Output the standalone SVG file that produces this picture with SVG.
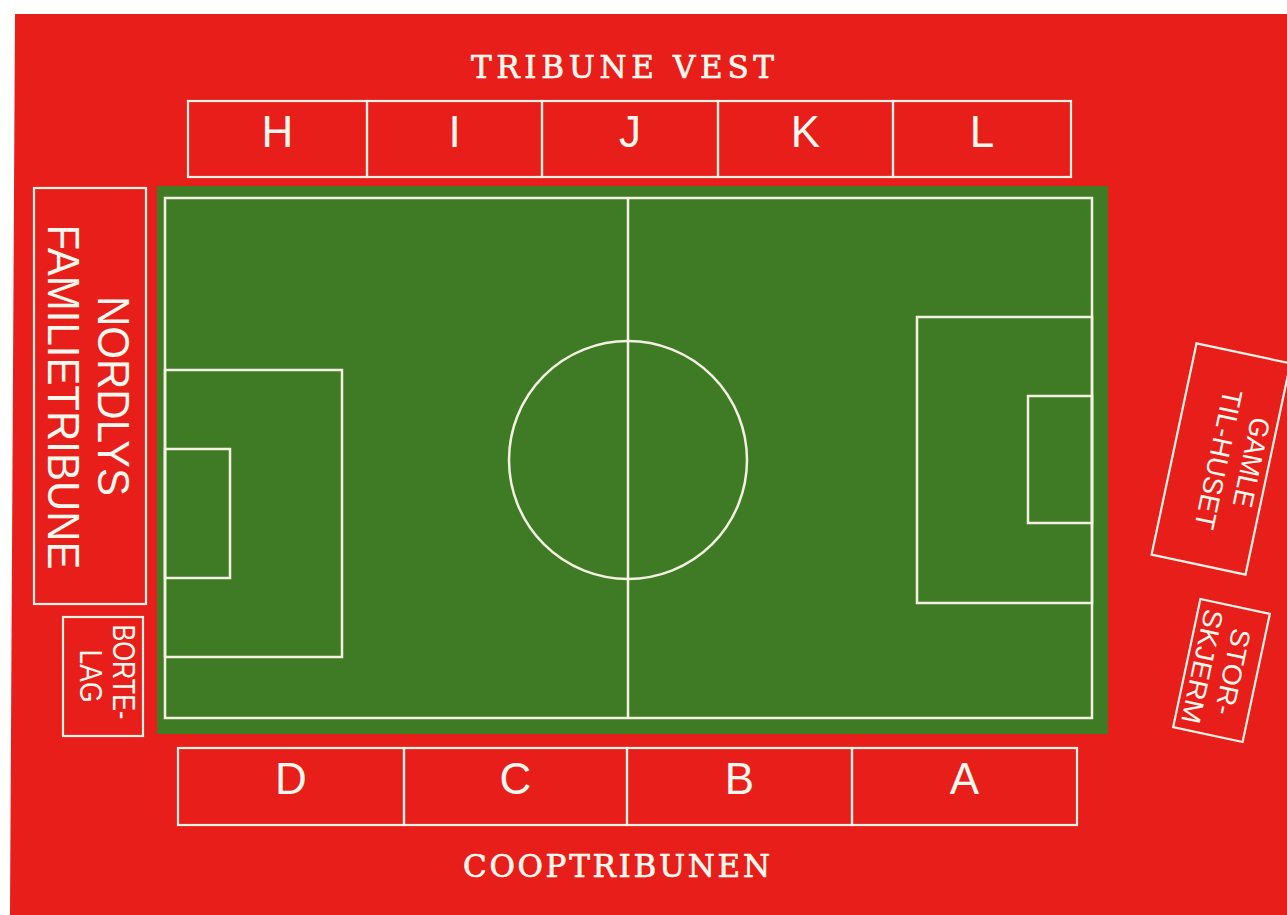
<svg xmlns="http://www.w3.org/2000/svg" width="1287" height="915" viewBox="0 0 1287 915">
<defs>
<style>
.box{fill:none;stroke:#f8f3e6;stroke-width:2.2}
.mk{fill:none;stroke:#f4f1e2;stroke-width:2.5}
.lbl{font-family:"Liberation Sans",Arial,sans-serif;fill:#fcf8ee;text-anchor:middle}
.sec{font-size:44px}
.title{font-family:"DejaVu Serif","Liberation Serif",serif;font-size:31px;fill:#fcf8ee;stroke:#fcf8ee;stroke-width:0.7;text-anchor:start}
</style>
</defs>
<rect x="0" y="0" width="1287" height="915" fill="#ffffff"/>
<polygon points="15,14 1287,14 1287,915 10,915" fill="#e71e1a"/>

<g id="pitch">
<rect x="157" y="186" width="951" height="548" fill="#3f7a25"/>
<rect class="mk" x="165" y="198" width="927" height="520"/>
<line class="mk" x1="628" y1="198" x2="628" y2="718"/>
<circle class="mk" cx="628" cy="460" r="119"/>
<rect class="mk" x="165" y="370" width="177" height="287"/>
<rect class="mk" x="165" y="449" width="65" height="129"/>
<rect class="mk" x="917" y="317" width="175" height="286"/>
<rect class="mk" x="1028" y="396" width="64" height="127"/>
</g>

<g id="tribune-vest-title">
<text class="title" x="471" y="78" textLength="303" lengthAdjust="spacing">TRIBUNE VEST</text>
</g>
<g id="section-H"><rect class="box" x="188" y="101" width="179" height="76"/><text class="lbl sec" x="277.5" y="147">H</text></g>
<g id="section-I"><rect class="box" x="367" y="101" width="175" height="76"/><text class="lbl sec" x="454.5" y="147">I</text></g>
<g id="section-J"><rect class="box" x="542" y="101" width="176" height="76"/><text class="lbl sec" x="630" y="147">J</text></g>
<g id="section-K"><rect class="box" x="718" y="101" width="175" height="76"/><text class="lbl sec" x="805.5" y="147">K</text></g>
<g id="section-L"><rect class="box" x="893" y="101" width="178" height="76"/><text class="lbl sec" x="982" y="147">L</text></g>

<g id="section-D"><rect class="box" x="178" y="748" width="226" height="77"/><text class="lbl sec" x="291" y="794">D</text></g>
<g id="section-C"><rect class="box" x="404" y="748" width="223" height="77"/><text class="lbl sec" x="515.5" y="794">C</text></g>
<g id="section-B"><rect class="box" x="627" y="748" width="225" height="77"/><text class="lbl sec" x="739.5" y="794">B</text></g>
<g id="section-A"><rect class="box" x="852" y="748" width="225" height="77"/><text class="lbl sec" x="964.5" y="794">A</text></g>
<g id="cooptribunen-title">
<text class="title" x="463" y="877" textLength="307" lengthAdjust="spacing">COOPTRIBUNEN</text>
</g>

<g id="nordlys-familietribune">
<rect class="box" x="34" y="188" width="112" height="416"/>
<text class="lbl" font-size="44" transform="translate(98,396) rotate(90)" textLength="200" lengthAdjust="spacingAndGlyphs">NORDLYS</text>
<text class="lbl" font-size="44" transform="translate(48,397) rotate(90)" textLength="345" lengthAdjust="spacingAndGlyphs">FAMILIETRIBUNE</text>
</g>

<g id="bortelag">
<rect class="box" x="63" y="617" width="80" height="119"/>
<text class="lbl" font-size="32" transform="translate(113,672) rotate(90)" textLength="95" lengthAdjust="spacingAndGlyphs">BORTE-</text>
<text class="lbl" font-size="32" transform="translate(80,676) rotate(90)" textLength="53" lengthAdjust="spacingAndGlyphs">LAG</text>
</g>

<g id="gamle-til-huset" transform="translate(1221,459) rotate(12)">
<rect class="box" x="-48" y="-108" width="96" height="216"/>
<text class="lbl" font-size="28" transform="translate(21,-3) rotate(90)" textLength="91" lengthAdjust="spacingAndGlyphs">GAMLE</text>
<text class="lbl" font-size="28" transform="translate(-12,1) rotate(90)" textLength="142" lengthAdjust="spacingAndGlyphs">TIL-HUSET</text>
</g>

<g id="storskjerm" transform="translate(1221.5,670.5) rotate(12)">
<rect class="box" x="-35.5" y="-65.5" width="71" height="131"/>
<text class="lbl" font-size="27" transform="translate(2,-1) rotate(90)" textLength="88" lengthAdjust="spacingAndGlyphs">STOR-</text>
<text class="lbl" font-size="27" transform="translate(-29,0) rotate(90)" textLength="116" lengthAdjust="spacingAndGlyphs">SKJERM</text>
</g>

<g id="connectors"/>
</svg>
